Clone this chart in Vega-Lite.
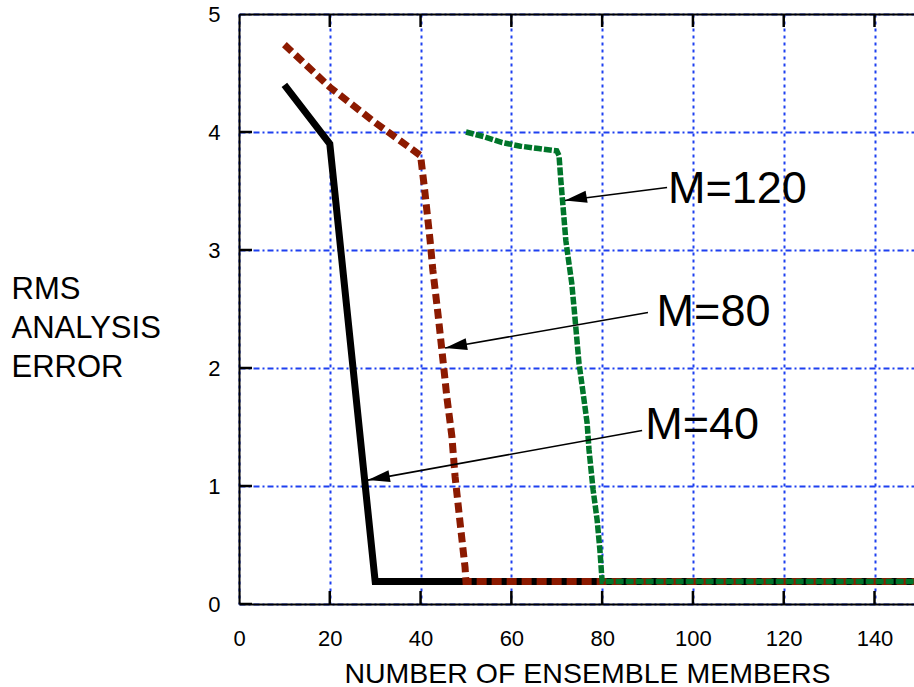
{
  "$schema": "https://vega.github.io/schema/vega-lite/v6.json",
  "width": 675,
  "height": 590,
  "autosize": {"type": "none"},
  "padding": {"left": 239, "top": 14, "right": 0, "bottom": 83},
  "background": "white",
  "config": {"view": {"stroke": null}, "font": "Liberation Sans"},
  "datasets": {
    "curves": [
      {"M": 40, "n": 10, "rms": 4.4},
      {"M": 40, "n": 20, "rms": 3.9},
      {"M": 40, "n": 30, "rms": 0.19},
      {"M": 40, "n": 150, "rms": 0.19},
      {"M": 80, "n": 10, "rms": 4.74},
      {"M": 80, "n": 20, "rms": 4.38},
      {"M": 80, "n": 30, "rms": 4.08},
      {"M": 80, "n": 40, "rms": 3.8},
      {"M": 80, "n": 40.9, "rms": 3.51},
      {"M": 80, "n": 42.1, "rms": 3.08},
      {"M": 80, "n": 42.7, "rms": 2.83},
      {"M": 80, "n": 43.8, "rms": 2.47},
      {"M": 80, "n": 44.7, "rms": 2.15},
      {"M": 80, "n": 45.8, "rms": 1.75},
      {"M": 80, "n": 46.9, "rms": 1.42},
      {"M": 80, "n": 47.6, "rms": 1.08},
      {"M": 80, "n": 48.7, "rms": 0.69},
      {"M": 80, "n": 49.8, "rms": 0.31},
      {"M": 80, "n": 50, "rms": 0.19},
      {"M": 80, "n": 150, "rms": 0.19},
      {"M": 120, "n": 50, "rms": 4.0},
      {"M": 120, "n": 54, "rms": 3.96},
      {"M": 120, "n": 58, "rms": 3.91},
      {"M": 120, "n": 62, "rms": 3.88},
      {"M": 120, "n": 66, "rms": 3.86},
      {"M": 120, "n": 70, "rms": 3.84},
      {"M": 120, "n": 70.5, "rms": 3.8},
      {"M": 120, "n": 70.9, "rms": 3.59},
      {"M": 120, "n": 71.4, "rms": 3.36},
      {"M": 120, "n": 72, "rms": 3.08},
      {"M": 120, "n": 72.5, "rms": 2.94},
      {"M": 120, "n": 73.3, "rms": 2.72},
      {"M": 120, "n": 74, "rms": 2.43},
      {"M": 120, "n": 74.9, "rms": 2.04},
      {"M": 120, "n": 75.8, "rms": 1.79},
      {"M": 120, "n": 76.7, "rms": 1.53},
      {"M": 120, "n": 77.1, "rms": 1.31},
      {"M": 120, "n": 78, "rms": 0.97},
      {"M": 120, "n": 78.9, "rms": 0.71},
      {"M": 120, "n": 79.5, "rms": 0.46},
      {"M": 120, "n": 80, "rms": 0.19},
      {"M": 120, "n": 150, "rms": 0.19}
    ],
    "notes": [
      {"label": "M=40", "textN": 89.5, "textR": 1.4, "tailN": 88.8, "tailR": 1.47, "headN": 28.4, "headR": 1.05},
      {"label": "M=80", "textN": 92.0, "textR": 2.36, "tailN": 90.1, "tailR": 2.47, "headN": 45.4, "headR": 2.17},
      {"label": "M=120", "textN": 94.5, "textR": 3.4, "tailN": 94.3, "tailR": 3.53, "headN": 71.8, "headR": 3.42}
    ],
    "xticks": [{"v": 0}, {"v": 20}, {"v": 40}, {"v": 60}, {"v": 80}, {"v": 100}, {"v": 120}, {"v": 140}],
    "yticks": [{"v": 0}, {"v": 1}, {"v": 2}, {"v": 3}, {"v": 4}, {"v": 5}]
  },
  "resolve": {"axis": {"x": "independent", "y": "independent"}},
  "layer": [
    {
      "data": {"name": "curves"},
      "transform": [{"filter": "datum.M === 40"}],
      "mark": {"type": "line", "color": "black", "strokeWidth": 7, "clip": true, "strokeJoin": "miter"},
      "encoding": {
        "x": {
          "field": "n", "type": "quantitative",
          "scale": {"domain": [0, 148.7], "nice": false, "zero": false},
          "axis": {
            "orient": "bottom",
            "values": [0, 20, 40, 60, 80, 100, 120, 140],
            "grid": true, "gridColor": "#1e40f0", "gridDash": [3, 4], "gridWidth": 2,
            "domainColor": "black", "domainWidth": 2,
            "ticks": false, "tickSize": 0,
            "labelFont": "Liberation Sans", "labelFontSize": 22, "labelColor": "black",
            "labelPadding": 24, "labelFlush": false, "labelOverlap": false,
            "title": "NUMBER OF ENSEMBLE MEMBERS",
            "titleFont": "Liberation Sans", "titleFontSize": 28.5, "titleFontWeight": "normal", "titleColor": "black",
            "titleX": 348, "titleY": 78, "titleBaseline": "alphabetic", "titleAlign": "center"
          }
        },
        "y": {
          "field": "rms", "type": "quantitative",
          "scale": {"domain": [0, 5], "nice": false},
          "axis": {
            "orient": "left",
            "values": [0, 1, 2, 3, 4, 5],
            "grid": true, "gridColor": "#1e40f0", "gridDash": [6, 3, 2, 3], "gridWidth": 2,
            "domainColor": "black", "domainWidth": 2,
            "ticks": false, "tickSize": 0,
            "labelFont": "Liberation Sans", "labelFontSize": 22, "labelColor": "black",
            "labelPadding": 19, "labelFlush": false, "labelOverlap": false,
            "title": ["RMS", "ANALYSIS", "ERROR"],
            "titleFont": "Liberation Sans", "titleFontSize": 31, "titleFontWeight": "normal", "titleColor": "black",
            "titleAngle": 0, "titleAlign": "left", "titleBaseline": "top", "titleLineHeight": 39,
            "titleX": -228, "titleY": 260
          }
        }
      }
    },
    {
      "data": {"name": "xticks"},
      "mark": {"type": "tick", "orient": "vertical", "color": "black", "size": 26, "thickness": 2.5, "opacity": 1, "clip": true},
      "encoding": {
        "x": {"field": "v", "type": "quantitative", "axis": null},
        "y": {"datum": 0, "type": "quantitative", "axis": null}
      }
    },
    {
      "data": {"name": "xticks"},
      "mark": {"type": "tick", "orient": "vertical", "color": "black", "size": 26, "thickness": 2.5, "opacity": 1, "clip": true},
      "encoding": {
        "x": {"field": "v", "type": "quantitative", "axis": null},
        "y": {"datum": 5, "type": "quantitative", "axis": null}
      }
    },
    {
      "data": {"name": "yticks"},
      "mark": {"type": "tick", "orient": "horizontal", "color": "black", "size": 26, "thickness": 2.5, "opacity": 1, "clip": true},
      "encoding": {
        "x": {"datum": 0, "type": "quantitative", "axis": null},
        "y": {"field": "v", "type": "quantitative", "axis": null}
      }
    },
    {
      "data": {"name": "curves"},
      "transform": [{"filter": "datum.M === 80"}],
      "mark": {"type": "line", "color": "#8c1a00", "strokeWidth": 7, "strokeDash": [10, 5], "clip": true},
      "encoding": {
        "x": {"field": "n", "type": "quantitative", "axis": null},
        "y": {"field": "rms", "type": "quantitative", "axis": null}
      }
    },
    {
      "data": {"name": "curves"},
      "transform": [{"filter": "datum.M === 120"}],
      "mark": {"type": "line", "color": "#00752a", "strokeWidth": 5.5, "strokeDash": [8, 2], "clip": true},
      "encoding": {
        "x": {"field": "n", "type": "quantitative", "axis": null},
        "y": {"field": "rms", "type": "quantitative", "axis": null}
      }
    },
    {
      "data": {"name": "notes"},
      "mark": {"type": "rule", "color": "black", "strokeWidth": 1.6},
      "encoding": {
        "x": {
          "field": "tailN", "type": "quantitative",
          "axis": {
            "orient": "top",
            "values": [0, 20, 40, 60, 80, 100, 120, 140],
            "grid": false, "labels": false, "title": null,
            "domainColor": "black", "domainWidth": 2,
            "ticks": false
          }
        },
        "y": {"field": "tailR", "type": "quantitative", "axis": null},
        "x2": {"field": "headN"},
        "y2": {"field": "headR"}
      }
    },
    {
      "data": {"name": "notes"},
      "mark": {"type": "point", "shape": "M0,0L2,-0.55L2,0.55Z", "size": 484, "filled": true, "color": "black", "opacity": 1, "strokeWidth": 0},
      "encoding": {
        "x": {"field": "headN", "type": "quantitative", "axis": null},
        "y": {"field": "headR", "type": "quantitative", "axis": null},
        "angle": {
          "field": "label", "type": "nominal",
          "scale": {"domain": ["M=40", "M=80", "M=120"], "range": [-10.3, -9.8, -7.8]},
          "legend": null
        }
      }
    },
    {
      "data": {"name": "notes"},
      "mark": {"type": "text", "font": "Liberation Sans", "fontSize": 45, "align": "left", "baseline": "alphabetic", "color": "black"},
      "encoding": {
        "x": {"field": "textN", "type": "quantitative", "axis": null},
        "y": {"field": "textR", "type": "quantitative", "axis": null},
        "text": {"field": "label"}
      }
    }
  ]
}
